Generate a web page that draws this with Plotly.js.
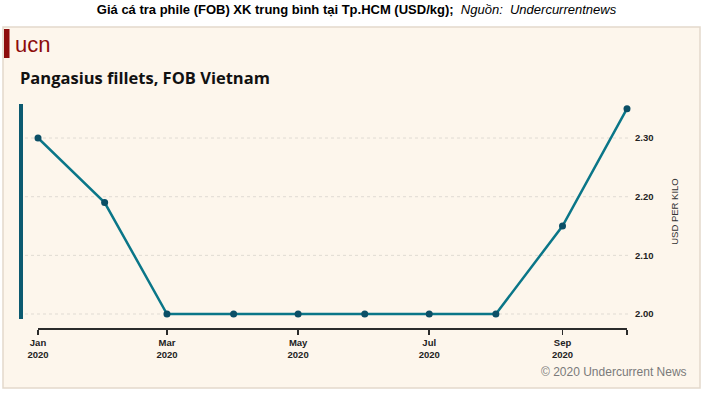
<!DOCTYPE html>
<html>
<head>
<meta charset="utf-8">
<script src="https://cdn.plot.ly/plotly-3.0.1.min.js"></script>
<style>html,body{margin:0;padding:0;background:#fff;}#chart{width:705px;height:398px;}</style>
</head>
<body>
<div id="chart"></div>
<script>
// ---- data ----
const months = ['2020-01-01','2020-02-01','2020-03-01','2020-04-01','2020-05-01','2020-06-01','2020-07-01','2020-08-01','2020-09-01','2020-10-01'];
const prices = [2.30, 2.19, 2.00, 2.00, 2.00, 2.00, 2.00, 2.00, 2.15, 2.35];
const xTickVals = ['2020-01-01','2020-03-01','2020-05-01','2020-07-01','2020-09-01','2020-10-01'];
const xTickText = ['<b>Jan</b><br><b>2020</b>','<b>Mar</b><br><b>2020</b>','<b>May</b><br><b>2020</b>','<b>Jul</b><br><b>2020</b>','<b>Sep</b><br><b>2020</b>',''];
const yTickVals = [2.00, 2.10, 2.20, 2.30];
const yTickText = ['<b>2.00</b>','<b>2.10</b>','<b>2.20</b>','<b>2.30</b>'];

// ---- layout helpers (pixel -> paper) ----
const W = 705, H = 398;
const M = {l: 38, r: 78, t: 104, b: 70};
const PW = W - M.l - M.r, PH = H - M.t - M.b;
const px = x => (x - M.l) / PW;
const py = y => (H - M.b - y) / PH;

const shapes = [
  // panel background
  {type:'rect', xref:'paper', yref:'paper', x0:px(3), x1:px(700), y0:py(388), y1:py(27),
   fillcolor:'#fdf6ec', line:{color:'#e3d9cb', width:1.5}, layer:'below'},
  // ucn red bar
  {type:'rect', xref:'paper', yref:'paper', x0:px(4), x1:px(9.5), y0:py(58), y1:py(29),
   fillcolor:'#8d0c0c', line:{width:0}, layer:'below'},
  // left accent bar
  {type:'line', xref:'paper', yref:'paper', x0:px(21), x1:px(21), y0:py(319), y1:py(104),
   line:{color:'#0b5a70', width:4}, layer:'below'}
];
yTickVals.forEach(v => shapes.push({
  type:'line', xref:'paper', yref:'y', x0:px(25), x1:px(628), y0:v, y1:v,
  line:{color:'#e0dbd3', width:1, dash:'dot'}, layer:'below'
}));

const trace = {
  x: months, y: prices, type:'scatter', mode:'lines+markers',
  line:{color:'#0a7688', width:2.5},
  marker:{color:'#0b4f66', size:7},
  cliponaxis:false, hoverinfo:'skip'
};

const layout = {
  width: W, height: H,
  margin: M,
  paper_bgcolor:'#ffffff', plot_bgcolor:'rgba(0,0,0,0)',
  showlegend:false,
  font:{family:'Liberation Sans, Arial, sans-serif', color:'#222'},
  title:{
    text:'<b>Giá cá tra phile (FOB) XK trung bình tại Tp.HCM (USD/kg);</b>  <i>Nguồn:  Undercurrentnews</i>',
    x: 356.5/W, xref:'container', xanchor:'center',
    y: 1 - 9/H, yref:'container', yanchor:'middle',
    font:{size:13, color:'#000', family:'Liberation Sans, Arial, sans-serif'}
  },
  xaxis:{
    type:'date', range:['2020-01-01','2020-10-01'],
    anchor:'free', position:0,
    showline:true, linecolor:'#2b2b2b', linewidth:1.5,
    ticks:'outside', ticklen:5, tickcolor:'#2b2b2b', tickwidth:1.5,
    tickvals:xTickVals, ticktext:xTickText,
    tickfont:{size:9.5, color:'#222'},
    showgrid:false, zeroline:false, fixedrange:true
  },
  yaxis:{
    domain:[py(319), 1],
    range:[1.9915, 2.358],
    side:'right', ticks:'', showline:false, showgrid:false, zeroline:false,
    tickvals:yTickVals, ticktext:yTickText,
    tickfont:{size:9.5, color:'#222'},
    ticklabelstandoff:7,
    title:{text:'USD PER KILO', font:{size:9.5, color:'#333'}, standoff:18},
    fixedrange:true
  },
  shapes: shapes,
  annotations:[
    {xref:'paper', yref:'paper', x:px(13), y:py(44), xanchor:'left', yanchor:'middle',
     text:'ucn', showarrow:false, font:{size:22, color:'#8d0c0c', family:'Liberation Sans, Arial, sans-serif'}},
    {xref:'paper', yref:'paper', x:px(18), y:py(77), xanchor:'left', yanchor:'middle',
     text:'<b>Pangasius fillets, FOB Vietnam</b>', showarrow:false,
     font:{size:16.5, color:'#111', family:'Open Sans, Arial, sans-serif'}},
    {xref:'paper', yref:'paper', x:px(689), y:py(372), xanchor:'right', yanchor:'middle',
     text:'© 2020 Undercurrent News', showarrow:false,
     font:{size:12, color:'#7a7a7a', family:'Liberation Sans, Arial, sans-serif'}}
  ]
};

Plotly.newPlot('chart', [trace], layout, {displayModeBar:false, staticPlot:true});
</script>
</body>
</html>
